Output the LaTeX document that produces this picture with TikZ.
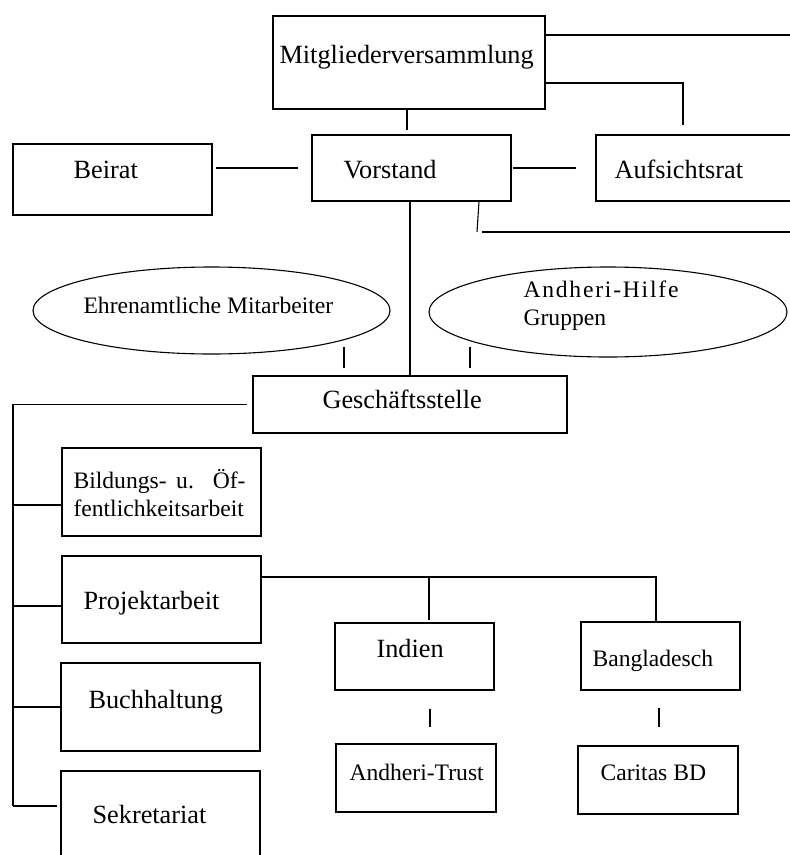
\documentclass[tikz,border=0pt]{standalone}
\usepackage{fontspec}
\setmainfont{Liberation Serif}
\usetikzlibrary{shapes.geometric}

\begin{document}
\begin{tikzpicture}[x=1pt, y=-1pt, line width=1.1pt,
    unit/.style={draw, inner sep=0pt},
    group/.style={draw, ellipse, inner sep=0pt},
    big/.style={anchor=base west, inner sep=0pt, font=\fontsize{26.3}{30}\selectfont},
    small/.style={anchor=base west, inner sep=0pt, font=\fontsize{23.6}{28}\selectfont}]
    \clip (0, 0) rectangle (790, 855);
    \fill [white] (0, 0) rectangle (790, 855);

    \path (409, 62.5) node [unit, minimum width=272pt, minimum height=93pt] (mv) {};
    \path (279, 63) node [big] (mvt) {Mitgliederversammlung};
    \path (411.5, 168) node [unit, minimum width=199pt, minimum height=66pt] (vs) {};
    \path (343, 178) node [big] (vst) {Vorstand};
    \path (708, 168) node [unit, minimum width=224pt, minimum height=66pt] (ar) {};
    \path (614, 178) node [big] (art) {Aufsichtsrat};
    \path (112.5, 179.5) node [unit, minimum width=199pt, minimum height=71pt] (br) {};
    \path (73, 178) node [big] (brt) {Beirat};

    \coordinate (rim) at (800, 35);
    \draw (mv.east |- rim) -- (rim);
    \coordinate (arup) at (683, 125);
    \draw (mv.east |- 0,83) -| (arup);
    \draw ([xshift=-2pt]mv.south) -- ++(0, 20);
    \draw ([xshift=-95pt]vs.west) -- ([xshift=-13pt]vs.west);
    \draw ([xshift=1pt]vs.east) -- ([xshift=-19pt]ar.west);
    \coordinate (vsr) at (477, 232);
    \draw (vs.south -| 479,0) -- (vsr);
    \draw ([xshift=5pt]vsr) -- (vsr -| rim);

    \path (211.5, 310.5) node [group, minimum width=357pt, minimum height=87pt] (eh) {};
    \path (83, 313) node [small] (eht) {Ehrenamtliche Mitarbeiter};
    \path (608, 312) node [group, minimum width=358pt, minimum height=90pt] (ah) {};
    \path (523, 297) node [small] (aht) {\addfontfeature{LetterSpace=7.5}Andheri-Hilfe};
    \path (523, 325) node [small] (ahu) {Gruppen};
    \path (410, 404.5) node [unit, minimum width=314pt, minimum height=57pt] (gs) {};
    \path (322, 408) node [big] (gst) {Geschäftsstelle};
    \draw (gs.north |- vs.south) -- (gs.north);
    \coordinate (ehs) at (344, 347);
    \draw (ehs) -- ++(0, 21);
    \coordinate (ahs) at (470, 347);
    \draw (ahs) -- ++(0, 21);

    \path (161.5, 492) node [unit, minimum width=199pt, minimum height=88pt] (bo) {};
    \path (73, 488) node [small] (bot) {\makebox[172pt][s]{Bildungs- u. Öf-}};
    \path (73, 516) node [small] (bou) {fentlichkeitsarbeit};
    \path (161.5, 599.5) node [unit, minimum width=199pt, minimum height=87pt] (pa) {};
    \path (83, 609) node [big] (pat) {Projektarbeit};
    \path (160.5, 707) node [unit, minimum width=199pt, minimum height=88pt] (bh) {};
    \path (88, 708) node [big] (bht) {Buchhaltung};
    \path (160.5, 826) node [unit, minimum width=199pt, minimum height=110pt] (sk) {};
    \path (92, 823) node [big] (skt) {Sekretariat};
    \coordinate (trunk) at (13, 806);
    \draw ([xshift=-5pt]gs.west) -| (trunk);
    \draw (trunk |- 0,505) -- (bo.west |- 0,505);
    \draw (trunk |- 0,606) -- (pa.west |- 0,606);
    \draw (trunk |- bh.west) -- (bh.west);
    \draw (trunk) -- ++(44, 0);

    \path (414.5, 656.5) node [unit, minimum width=159pt, minimum height=67pt] (in) {};
    \path (376, 657) node [big] (int) {Indien};
    \path (660.5, 656) node [unit, minimum width=159pt, minimum height=68pt] (bd) {};
    \path (592, 666) node [small] (bdt) {Bangladesch};
    \path (416, 778) node [unit, minimum width=160pt, minimum height=68pt] (at) {};
    \path (349, 780) node [small] (att) {Andheri-Trust};
    \path (658, 780) node [unit, minimum width=160pt, minimum height=68pt] (cb) {};
    \path (600, 780) node [small] (cbt) {Caritas BD};
    \coordinate (pj) at (656, 577);
    \draw (pa.east |- pj) -- (pj) -- (pj |- bd.north);
    \draw (pj -| 429,0) -- ++(0, 43);
    \draw ([shift={(15.5,18)}]in.south) -- ++(0, 18);
    \draw ([shift={(-1.5,17)}]bd.south) -- ++(0, 19);
\end{tikzpicture}
\end{document}
